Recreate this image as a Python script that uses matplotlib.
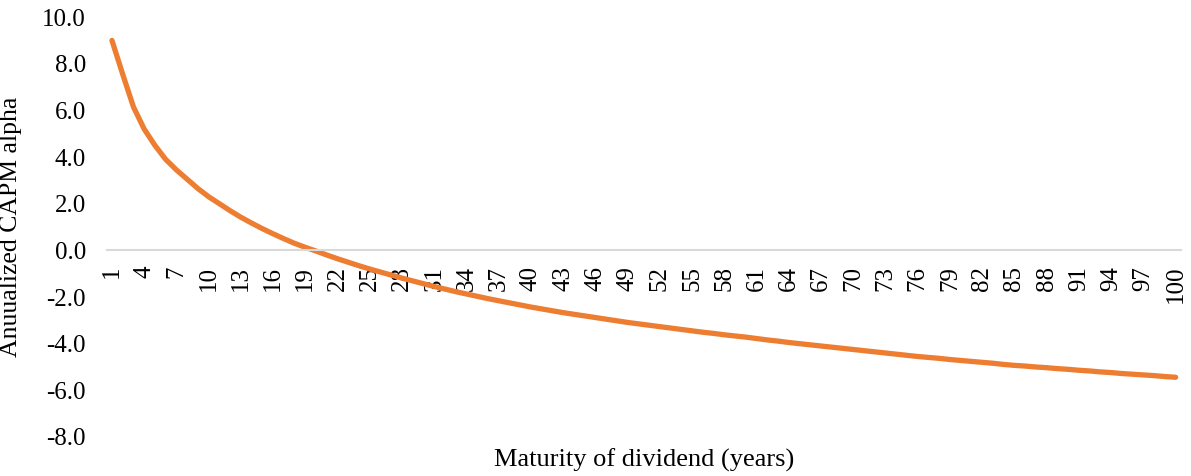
import matplotlib
matplotlib.use("Agg")
import matplotlib.pyplot as plt
from matplotlib.ticker import FormatStrFormatter

plt.rcParams['font.family'] = ['Liberation Serif', 'DejaVu Serif']
plt.rcParams['axes.unicode_minus'] = False

maturity = list(range(1, 101))
alpha = [
    9.00, 7.55, 6.15, 5.20, 4.50, 3.90, 3.45, 3.05, 2.65, 2.30,
    2.00, 1.70, 1.42, 1.17, 0.93, 0.71, 0.50, 0.30, 0.13, -0.03,
    -0.20, -0.36, -0.51, -0.66, -0.80, -0.93, -1.06, -1.19, -1.31, -1.43,
    -1.55, -1.66, -1.77, -1.87, -1.97, -2.07, -2.16, -2.25, -2.34, -2.43,
    -2.51, -2.59, -2.67, -2.74, -2.81, -2.88, -2.95, -3.02, -3.09, -3.15,
    -3.21, -3.27, -3.33, -3.39, -3.45, -3.51, -3.56, -3.62, -3.67, -3.72,
    -3.78, -3.84, -3.89, -3.95, -4.00, -4.05, -4.10, -4.15, -4.20, -4.25,
    -4.30, -4.35, -4.40, -4.45, -4.50, -4.55, -4.59, -4.63, -4.68, -4.72,
    -4.76, -4.80, -4.84, -4.89, -4.93, -4.96, -5.00, -5.03, -5.07, -5.10,
    -5.14, -5.17, -5.21, -5.24, -5.28, -5.31, -5.34, -5.37, -5.41, -5.44,
]
xtick_labels = [str(m) for m in range(1, 101, 3)]
yticks = [-8, -6, -4, -2, 0, 2, 4, 6, 8, 10]

fig = plt.figure(figsize=(11.91, 4.76), dpi=100)
ax = fig.add_axes([0.0895, 0.082, 0.9021, 0.882])

ax.plot(maturity, alpha, color='#ED7D31', linewidth=3.8,
        solid_capstyle='round', solid_joinstyle='round')

ax.set_xlim(0.5, 100.5)
ax.set_ylim(-8, 10)
ax.set_yticks(yticks)
ax.yaxis.set_major_formatter(FormatStrFormatter('%.1f'))
ax.set_xticks([int(s) for s in xtick_labels])
ax.set_xticklabels(xtick_labels)

for s in ['top', 'right', 'left']:
    ax.spines[s].set_visible(False)
ax.spines['bottom'].set_position(('data', 0))
ax.spines['bottom'].set_color('#D9D9D9')
ax.spines['bottom'].set_linewidth(1.5)

ax.tick_params(axis='both', length=0, labelsize=18)
ax.tick_params(axis='y', pad=15)
ax.tick_params(axis='x', pad=11, labelrotation=90)

ax.set_ylabel('Anuualized CAPM alpha', fontsize=18.5)
ax.yaxis.set_label_coords(-0.079, 0.5)
ax.set_xlabel('Maturity of dividend (years)', fontsize=19)
ax.xaxis.set_label_coords(0.5, -0.055)
ax.xaxis.label.set_va('center')

fig.savefig('out.png', dpi=100)
